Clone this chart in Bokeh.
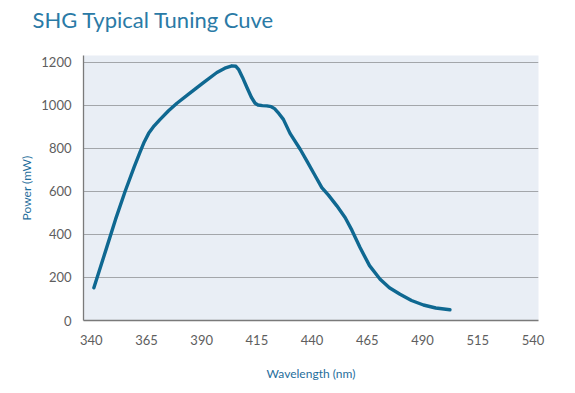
from bokeh.plotting import figure
from bokeh.models import FixedTicker, Range1d, Title
from bokeh.embed import file_html
from bokeh.resources import INLINE

wavelength = [341.2, 346.8, 351.0, 355.4, 359.5, 362.0, 364.0, 366.0, 368.5, 371.2, 375.0, 378.8, 384.8,
              390.8, 396.9, 400.5, 403.7, 405.5, 406.7, 408.5, 410.5, 412.5, 414.2, 415.5,
              417.5, 419.5, 421.5, 423.0, 424.5, 427.0, 430.0, 434.6, 437.6, 441.0, 444.4, 447.4,
              451.2, 455.0, 458.0, 461.7, 466.0, 470.8, 475.0, 479.8, 485.0, 490.4, 496.0, 502.4]
power = [152, 333, 470, 602, 715, 780, 830, 870, 905, 935, 975, 1010, 1058,
         1106, 1153, 1173, 1184, 1182, 1168, 1130, 1083, 1038, 1010, 1002,
         999, 998, 994, 985, 968, 935, 870, 796, 742, 680, 618, 583,
         533, 478, 420, 339, 255, 192, 152, 122, 93, 72, 58, 50]

x_ticks = [340, 365, 390, 415, 440, 465, 490, 515, 540]
y_ticks = [0, 200, 400, 600, 800, 1000, 1200]

FONT = "Lato"
BLUE = "#0f6891"
LABEL_BLUE = "#1f6e9c"
GRAY_TXT = "#5e5e5e"

p = figure(width=567, height=385, output_backend="svg", toolbar_location=None,
           x_range=Range1d(336.5, 542.5), y_range=Range1d(0, 1232),
           title="SHG Typical Tuning Cuve")
p.min_border_left = 83
p.min_border_right = 29
p.min_border_top = 55
p.min_border_bottom = 65

p.title.text_font = FONT
p.title.text_font_size = "22px"
p.title.text_font_style = "normal"
p.title.text_color = "#2a7aa6"
p.title.align = "left"
p.title.offset = -51
p.title.standoff = 0

# blank spacer panel between the title and the plot frame
p.add_layout(Title(text=" ", text_font_size="1px", standoff=20), "above")

p.background_fill_color = "#e9eef5"
p.border_fill_color = "white"
p.outline_line_color = None

p.line(wavelength, power, line_color=BLUE, line_width=3.4, line_cap="round", line_join="round")

p.xaxis.ticker = FixedTicker(ticks=x_ticks)
p.yaxis.ticker = FixedTicker(ticks=y_ticks)
p.xgrid.grid_line_color = None
p.ygrid.grid_line_color = "#a3a6aa"
p.ygrid.grid_line_width = 1
p.ygrid.ticker = FixedTicker(ticks=y_ticks[1:])

for ax in (p.xaxis, p.yaxis):
    ax.axis_line_color = "#7a7a7a"
    ax.axis_line_width = 1.3
    ax.major_tick_line_color = None
    ax.minor_tick_line_color = None
    ax.major_label_text_font = FONT
    ax.major_label_text_font_size = "13px"
    ax.major_label_text_color = GRAY_TXT
    ax.axis_label_text_font = FONT
    ax.axis_label_text_font_size = "12px"
    ax.axis_label_text_font_style = "normal"
    ax.axis_label_text_color = LABEL_BLUE

p.xaxis.axis_label = "Wavelength (nm)"
p.yaxis.axis_label = "Power (mW)"
p.xaxis.major_label_standoff = 8
p.yaxis.major_label_standoff = 6
p.xaxis.axis_label_standoff = 18
p.yaxis.axis_label_standoff = 4

open("out.html", "w").write(file_html(p, INLINE))
